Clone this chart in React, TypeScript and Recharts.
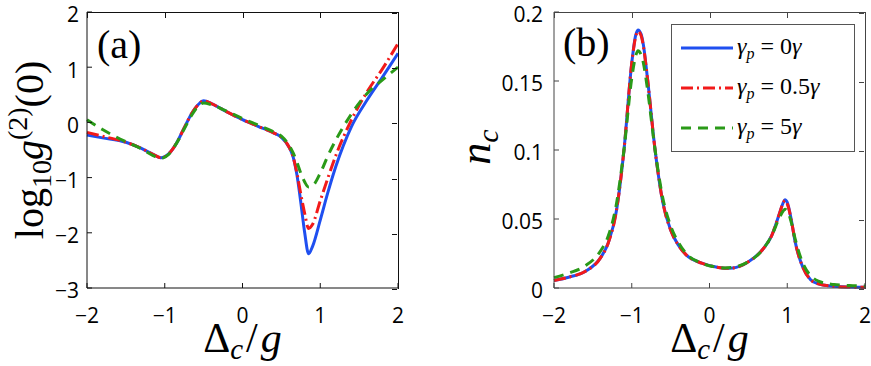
import { Line, LineChart, XAxis, YAxis } from 'recharts'

// panel (a): log10 g2(0) vs detuning
const xA = [-2, -1.8, -1.5, -1.3, -1.15, -1.05, -0.95, -0.85, -0.75, -0.65, -0.55, -0.5, -0.4, -0.2, 0, 0.2, 0.4, 0.5, 0.6, 0.65, 0.7, 0.75, 0.8, 0.85, 0.9, 1.0, 1.1, 1.2, 1.4, 1.6, 1.8, 2.0]
const g2Blue = [-0.23, -0.28, -0.36, -0.47, -0.58, -0.64, -0.57, -0.38, -0.1, 0.17, 0.35, 0.39, 0.34, 0.19, 0.05, -0.07, -0.19, -0.27, -0.45, -0.62, -0.95, -1.45, -2.0, -2.38, -2.25, -1.77, -1.26, -0.8, -0.08, 0.4, 0.82, 1.25]
const g2Red = [-0.18, -0.25, -0.36, -0.47, -0.58, -0.64, -0.57, -0.38, -0.1, 0.17, 0.35, 0.39, 0.34, 0.19, 0.05, -0.07, -0.19, -0.27, -0.45, -0.62, -0.92, -1.3, -1.65, -1.92, -1.85, -1.42, -1.0, -0.6, 0.04, 0.55, 0.97, 1.43]
const g2Green = [0.05, -0.13, -0.35, -0.48, -0.6, -0.65, -0.58, -0.38, -0.12, 0.14, 0.32, 0.35, 0.32, 0.2, 0.07, -0.05, -0.17, -0.25, -0.42, -0.55, -0.72, -0.92, -1.08, -1.17, -1.15, -0.92, -0.6, -0.32, 0.15, 0.52, 0.77, 1.0]

// panel (b): cavity photon number
const xB = [-2, -1.8, -1.6, -1.4, -1.3, -1.2, -1.1, -1.0, -0.95, -0.92, -0.88, -0.85, -0.8, -0.7, -0.6, -0.5, -0.4, -0.3, -0.1, 0.1, 0.2, 0.3, 0.5, 0.7, 0.8, 0.9, 0.95, 0.97, 1.0, 1.05, 1.1, 1.2, 1.3, 1.4, 1.6, 1.8, 2.0]
const ncBlue = [0.0055, 0.008, 0.012, 0.022, 0.033, 0.055, 0.1, 0.163, 0.183, 0.187, 0.184, 0.176, 0.153, 0.1, 0.062, 0.042, 0.031, 0.024, 0.018, 0.015, 0.0143, 0.0145, 0.019, 0.029, 0.038, 0.054, 0.062, 0.064, 0.062, 0.05, 0.034, 0.015, 0.006, 0.003, 0.0012, 0.0007, 0.0005]
const ncRed = [0.0055, 0.008, 0.012, 0.022, 0.033, 0.055, 0.1, 0.163, 0.182, 0.186, 0.183, 0.175, 0.153, 0.1, 0.062, 0.042, 0.031, 0.024, 0.018, 0.015, 0.0143, 0.0145, 0.019, 0.029, 0.038, 0.054, 0.062, 0.0635, 0.061, 0.05, 0.034, 0.015, 0.006, 0.003, 0.0012, 0.0007, 0.0005]
const ncGreen = [0.0075, 0.011, 0.016, 0.027, 0.038, 0.06, 0.1, 0.152, 0.168, 0.172, 0.169, 0.163, 0.145, 0.1, 0.065, 0.045, 0.033, 0.025, 0.018, 0.015, 0.0145, 0.015, 0.019, 0.029, 0.038, 0.051, 0.056, 0.057, 0.056, 0.048, 0.036, 0.018, 0.009, 0.005, 0.0025, 0.0018, 0.0015]

const xTicks = [-2, -1, 0, 1, 2]
const yTicksA = [-3, -2, -1, 0, 1, 2]
const yTicksB = [0, 0.05, 0.1, 0.15, 0.2]

const SERIES = [
  { key: 'blue', color: '#1f4ff0', dash: undefined as string | undefined, label: '0' },
  { key: 'red', color: '#f21a1a', dash: '12 4 2 4', label: '0.5' },
  { key: 'green', color: '#2a9a18', dash: '10 7', label: '5' },
]

const rowsA = xA.map((x, i) => ({ x, blue: g2Blue[i], red: g2Red[i], green: g2Green[i] }))
const rowsB = xB.map((x, i) => ({ x, blue: ncBlue[i], red: ncRed[i], green: ncGreen[i] }))

const fmt = (v: number) => (v < 0 ? '\u2212' + Math.abs(v) : String(v))
const tickFont = { fill: '#000', fontSize: 21, fontFamily: 'Open Sans' }
const yTickFont = { ...tickFont, dy: 3 }
const MATH = 'Liberation Serif'

// plot boxes (page px)
const PLOT_W = 311
const PLOT_H = 276
const PLOT_TOP = 12
const BOX_A = { left: 87, color: '#111', yDomain: [-3, 2] as [number, number], yTicks: yTicksA }
const BOX_B = { left: 554, color: '#444', yDomain: [0, 0.2] as [number, number], yTicks: yTicksB }

function Panel({
  rows,
  yTicks,
  yDomain,
  yWidth,
  rightMargin,
  yTickMargin,
  axisColor,
}: {
  rows: Array<Record<string, number>>
  yTicks: number[]
  yDomain: [number, number]
  yWidth: number
  rightMargin: number
  yTickMargin: number
  axisColor: string
}) {
  const width = yWidth + PLOT_W + rightMargin
  return (
    <LineChart width={width} height={366} data={rows} margin={{ top: PLOT_TOP, right: rightMargin, bottom: 0, left: 0 }}>
      <XAxis
        dataKey="x"
        type="number"
        domain={[-2, 2]}
        ticks={xTicks}
        interval={0}
        height={366 - PLOT_TOP - PLOT_H}
        tickSize={-5}
        tickMargin={25}
        tickFormatter={fmt}
        tick={tickFont}
        stroke={axisColor}
      />
      <YAxis
        type="number"
        domain={yDomain}
        ticks={yTicks}
        interval={0}
        width={yWidth}
        tickSize={-5}
        tickMargin={yTickMargin}
        tickFormatter={fmt}
        tick={yTickFont}
        stroke={axisColor}
      />
      {SERIES.map((s) => (
        <Line
          key={s.key}
          type="monotone"
          dataKey={s.key}
          stroke={s.color}
          strokeWidth={3}
          strokeDasharray={s.dash}
          dot={false}
          isAnimationActive={false}
        />
      ))}
    </LineChart>
  )
}

// top and right sides of the box, with their inward ticks
function Frame({ box }: { box: typeof BOX_A }) {
  const { left, color, yDomain, yTicks } = box
  const sx = (v: number) => Math.round(((v + 2) / 4) * PLOT_W)
  const sy = (v: number) => Math.round(PLOT_H - ((v - yDomain[0]) / (yDomain[1] - yDomain[0])) * PLOT_H)
  return (
    <div
      style={{
        position: 'absolute',
        left,
        top: PLOT_TOP,
        width: PLOT_W + 1,
        height: PLOT_H + 1,
        boxSizing: 'border-box',
        borderTop: `1px solid ${color}`,
        borderRight: `1px solid ${color}`,
        pointerEvents: 'none',
      }}
    >
      {xTicks.map((v) => (
        <div key={'x' + v} style={{ position: 'absolute', left: sx(v), top: 0, width: 1, height: 5, background: color }} />
      ))}
      {yTicks.map((v) => (
        <div key={'y' + v} style={{ position: 'absolute', left: PLOT_W - 6, top: sy(v), width: 5, height: 1, background: color }} />
      ))}
    </div>
  )
}

export default function App() {
  return (
    <div style={{ position: 'absolute', left: 0, top: 0, width: 871, height: 366, background: '#fff' }}>
      <div style={{ position: 'absolute', left: 0, top: 0 }}>
        <Panel rows={rowsA} yTicks={yTicksA} yDomain={[-3, 2]} yWidth={87} rightMargin={32} yTickMargin={13} axisColor="#111" />
      </div>
      <div style={{ position: 'absolute', left: 440, top: 0 }}>
        <Panel rows={rowsB} yTicks={yTicksB} yDomain={[0, 0.2]} yWidth={114} rightMargin={6} yTickMargin={16} axisColor="#444" />
      </div>
      <Frame box={BOX_A} />
      <Frame box={BOX_B} />
      <svg width={871} height={366} style={{ position: 'absolute', left: 0, top: 0, pointerEvents: 'none' }}>
        <g fill="#000" style={{ fontFamily: MATH }}>
          {/* panel letters */}
          <text x={97} y={58} fontSize={40}>(a)</text>
          <text x={563} y={56} fontSize={40}>(b)</text>

          {/* x labels */}
          {[242.5, 709.5].map((cx) => (
            <text key={cx} x={cx} y={352} fontSize={42} textAnchor="middle">
              Δ<tspan fontStyle="italic" fontSize={29} dy={7}>c</tspan>
              <tspan dy={-7} dx={3}>/</tspan>
              <tspan fontStyle="italic" dx={3}>g</tspan>
            </text>
          ))}

          {/* y label (a) */}
          <text x={43} y={150} fontSize={40} textAnchor="middle" transform="rotate(-90 43 150)">
            log<tspan fontSize={28} dy={8}>10</tspan>
            <tspan fontStyle="italic" dy={-8}>g</tspan>
            <tspan fontSize={28} dy={-16}>(2)</tspan>
            <tspan dy={16}>(0)</tspan>
          </text>

          {/* y label (b) */}
          <text x={490} y={147} fontSize={44} textAnchor="middle" transform="rotate(-90 490 147)" fontStyle="italic">
            n<tspan fontSize={30} dy={8}>c</tspan>
          </text>

          {/* legend */}
          <rect x={671.5} y={24.5} width={183} height={127} fill="#fff" stroke="#555" strokeWidth={1} />
          {SERIES.map((s, i) => {
            const y = 48 + i * 40
            return (
              <g key={s.key}>
                <line x1={681} x2={733} y1={y} y2={y} stroke={s.color} strokeWidth={3} strokeDasharray={s.dash} />
                <text x={737} y={y + 6} fontSize={24}>
                  <tspan fontStyle="italic">γ</tspan>
                  <tspan fontStyle="italic" fontSize={16} dy={5}>p</tspan>
                  <tspan dy={-5} dx={6}>=</tspan>
                  <tspan dx={6}>{s.label}</tspan>
                  <tspan fontStyle="italic">γ</tspan>
                </text>
              </g>
            )
          })}
        </g>
      </svg>
    </div>
  )
}
